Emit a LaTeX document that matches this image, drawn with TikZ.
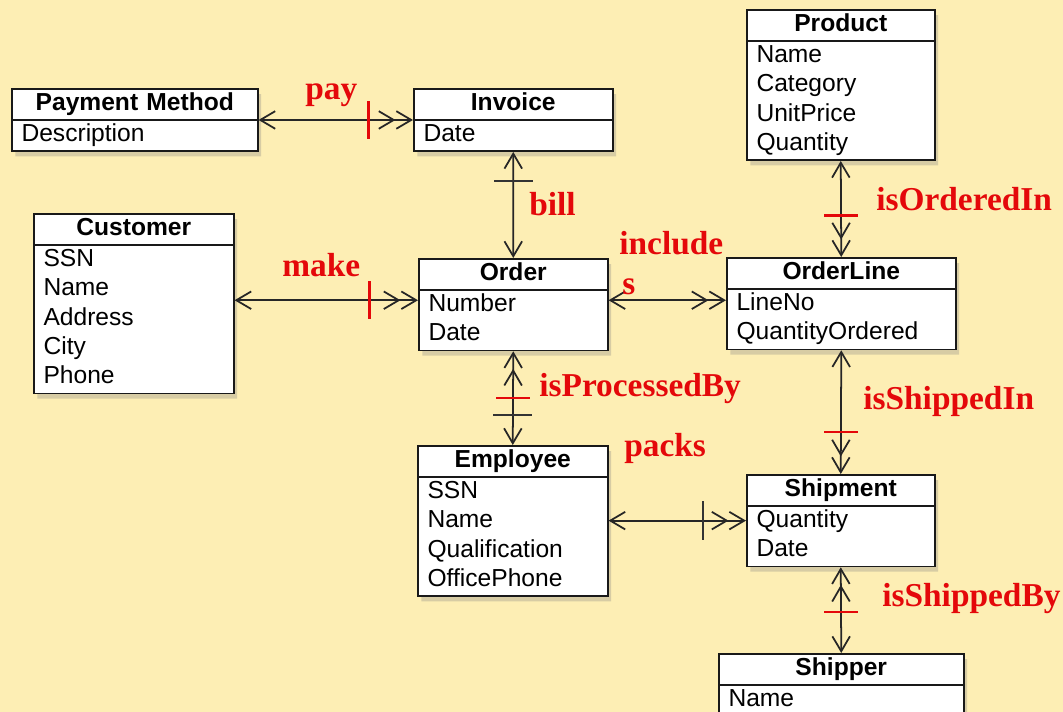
\documentclass[tikz,border=0pt]{standalone}
\usepackage{fontspec}
\setmainfont{Liberation Sans}
\newfontfamily\relfont{Liberation Serif}
\usetikzlibrary{shapes.multipart,arrows.meta,shadows}

\definecolor{bgyellow}{RGB}{253,238,180}
\definecolor{relred}{RGB}{228,8,10}

\newcommand{\etitle}[1]{\hbox to\hsize{\hss\bfseries\strut #1\hss}}

\tikzset{
  entity/.style={rectangle split, rectangle split parts=2, draw=black!90, line width=1pt,
    fill=white, anchor=north west, inner xsep=5.5pt, inner ysep=0pt, align=left,
    font=\fontsize{14}{16.7}\selectfont,
    drop shadow={shadow xshift=2pt, shadow yshift=-3pt, opacity=.3}},
  rel/.style={line width=1pt, draw=black!85},
  one/.tip={Straight Barb[length=8.5pt,width=10pt]},
  many/.tip={Straight Barb[length=8.5pt,width=10pt] Straight Barb[length=8.5pt,width=10pt]},
  rellabel/.style={anchor=base west, inner sep=0pt, text=relred,
    font=\relfont\bfseries\fontsize{19}{22.8}\selectfont},
  redh/.style={fill=relred, minimum width=0.68cm, minimum height=1.5pt, inner sep=0pt},
  redv/.style={fill=relred, minimum height=0.76cm, minimum width=1.5pt, inner sep=0pt},
  blackh/.style={fill=black!80, minimum width=0.78cm, minimum height=1.1pt, inner sep=0pt},
  blackv/.style={fill=black!80, minimum height=0.78cm, minimum width=1.1pt, inner sep=0pt}
}

\begin{document}
\begin{tikzpicture}[x=0.02cm, y=-0.02cm]
	\path[use as bounding box, fill=bgyellow] (0,0) rectangle (1063,712);

	% entities
	\node[entity, text width=4.53cm] (pm) at (11,88)
	  {\etitle{Payment Method}\nodepart{two}\strut Description};
	\node[entity, text width=3.61cm] (cust) at (33,213)
	  {\etitle{Customer}\nodepart{two}\strut SSN\\Name\\Address\\City\\Phone\strut};
	\node[entity, text width=3.59cm] (inv) at (413,88)
	  {\etitle{Invoice}\nodepart{two}\strut Date};
	\node[entity, text width=3.39cm] (ord) at (418,258)
	  {\etitle{Order}\nodepart{two}\strut Number\\Date\strut};
	\node[entity, text width=3.37cm] (prod) at (746,9)
	  {\etitle{Product}\nodepart{two}\strut Name\\Category\\UnitPrice\\Quantity\strut};
	\node[entity, text width=4.19cm] (ol) at (726,257)
	  {\etitle{OrderLine}\nodepart{two}\strut LineNo\\QuantityOrdered\strut};
	\node[entity, text width=3.41cm] (emp) at (417,445)
	  {\etitle{Employee}\nodepart{two}\strut SSN\\Name\\Qualification\\OfficePhone\strut};
	\node[entity, text width=3.37cm] (shpm) at (746,474)
	  {\etitle{Shipment}\nodepart{two}\strut Quantity\\Date\strut};
	\node[entity, text width=4.51cm] (shpr) at (718,653)
	  {\etitle{Shipper}\nodepart{two}\strut Name\\\strut};

	% relationships
	\coordinate (mk) at ([yshift=2.5pt]ord.west);
	\draw[rel, one-many] (pm.text split east) -- node[pos=.71, redv]{} (inv.text split west);
	\draw[rel, one-one] (inv.south) -- node[pos=.27, blackh]{} (ord.north);
	\draw[rel, one-many] (cust.east |- mk) -- node[pos=.735, redv]{} (mk);
	\draw[rel, one-many] (ord.east |- mk) -- (ol.west |- mk);
	\draw[rel, one-many] (prod.south) -- node[pos=.57, redh]{} (ol.north);
	\draw[rel, many-one] (ord.south) -- node[pos=.5, redh]{} node[pos=.68, blackh]{} (emp.north);
	\draw[rel, one-many] (ol.south) -- node[pos=.66, redh]{} (shpm.north);
	\draw[rel, one-many] (emp.east |- shpm.west) -- node[pos=.69, blackv]{} (shpm.west);
	\draw[rel, many-one] (shpm.south) -- node[pos=.52, redh]{} (shpr.north);

	% labels
	\node[rellabel] (lpay) at (305,100) {pay};
	\node[rellabel] (lbill) at (529,216) {bill};
	\node[rellabel] (lmake) at (282,277) {make};
	\node[rellabel] (lincl) at (619,255) {include};
	\node[rellabel] (lincls) at (622,295) {s};
	\node[rellabel] (lorder) at (876,211) {isOrderedIn};
	\node[rellabel] (lproc) at (539,397) {isProcessedBy};
	\node[rellabel] (lshin) at (863,410) {isShippedIn};
	\node[rellabel] (lpack) at (624,457) {packs};
	\node[rellabel] (lshby) at (882,607) {isShippedBy};
\end{tikzpicture}
\end{document}
